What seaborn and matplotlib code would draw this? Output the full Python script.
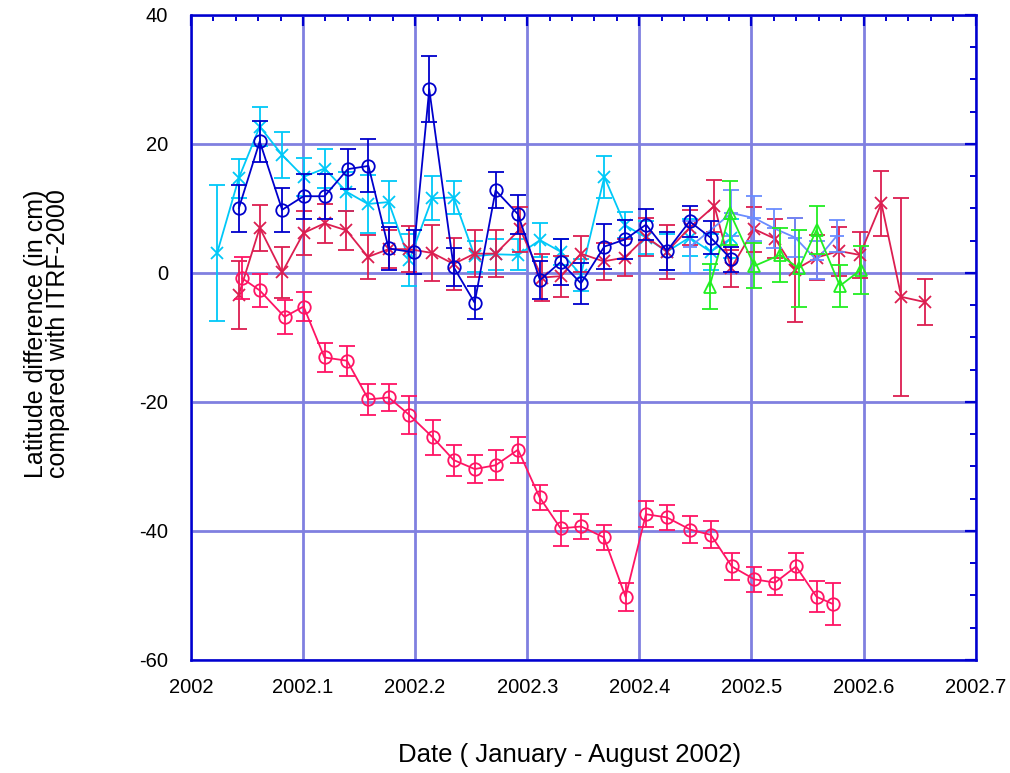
import numpy as np
import pandas as pd
import matplotlib
matplotlib.use("Agg")
import matplotlib.pyplot as plt
from matplotlib.ticker import MultipleLocator, FixedLocator, FixedFormatter
import seaborn as sns

# ---------------- data ----------------
# cyan (x markers)
cyan_x = [2002.0234, 2002.0427, 2002.0614, 2002.0814, 2002.1005, 2002.1192, 2002.1388,
          2002.1579, 2002.1764, 2002.1948, 2002.2153, 2002.2344, 2002.2531, 2002.2718,
          2002.2918, 2002.3114, 2002.3298, 2002.3479, 2002.3688, 2002.3873, 2002.4060,
          2002.4246, 2002.4448, 2002.4635, 2002.4822]
cyan_y = [3.1, 14.7, 22.7, 18.3, 14.9, 16.2, 12.6, 10.7, 11.0, 2.0, 11.6, 11.7, 2.6, 2.9,
          2.8, 5.1, 3.3, -0.3, 14.9, 7.4, 5.5, 3.3, 5.5, 3.3, 5.4]
cyan_e = [10.5, 3.0, 3.0, 3.5, 3.0, 3.0, 3.0, 4.5, 3.3, 4.0, 3.4, 2.6, 2.4, 2.4, 2.4, 2.6,
          2.0, 2.5, 3.3, 2.0, 2.5, 2.8, 2.8, 2.8, 3.0]

# dark blue (circles)
blue_x = [2002.0427, 2002.0614, 2002.0814, 2002.1005, 2002.1192, 2002.1399, 2002.1584,
          2002.1764, 2002.1987, 2002.2126, 2002.2344, 2002.2531, 2002.2718, 2002.2918,
          2002.3114, 2002.3298, 2002.3479, 2002.3688, 2002.3873, 2002.4060, 2002.4246,
          2002.4448, 2002.4635, 2002.4822]
blue_y = [10.0, 20.4, 9.8, 11.9, 11.9, 16.1, 16.6, 3.8, 3.2, 28.5, 0.9, -4.6, 12.8, 9.1,
          -1.1, 1.7, -1.6, 4.1, 5.2, 7.5, 3.4, 8.0, 5.5, 2.1]
blue_e = [3.7, 3.2, 3.4, 3.5, 3.5, 3.1, 4.1, 3.3, 3.4, 5.1, 2.9, 2.6, 2.8, 3.0, 2.9, 3.5,
          3.2, 3.5, 3.0, 2.4, 3.0, 2.4, 2.6, 2.0]

# red (x markers)
red_x = [2002.0427, 2002.0614, 2002.0814, 2002.1005, 2002.1192, 2002.1388, 2002.1579,
         2002.1764, 2002.1948, 2002.2153, 2002.2344, 2002.2531, 2002.2718, 2002.2936,
         2002.3131, 2002.3298, 2002.3479, 2002.3682, 2002.3870, 2002.4060, 2002.4246,
         2002.4448, 2002.4670, 2002.4817, 2002.5024, 2002.5211, 2002.5389, 2002.5581,
         2002.5783, 2002.5967, 2002.6159, 2002.6337, 2002.6545]
red_y = [-3.4, 7.0, 0.1, 6.2, 7.7, 6.6, 2.5, 3.7, 3.7, 3.1, 1.4, 3.0, 3.0, 6.8, -0.7, -0.5,
         3.0, 1.8, 2.4, 5.6, 3.3, 7.0, 10.4, 0.7, 6.8, 5.3, 0.5, 2.4, 3.4, 2.8, 10.8, -3.7,
         -4.5]
red_e = [5.3, 3.6, 3.9, 3.4, 3.0, 3.0, 3.4, 2.9, 3.6, 4.4, 4.0, 3.6, 3.6, 3.5, 3.6, 3.2,
         2.8, 2.9, 2.8, 3.0, 4.2, 2.7, 4.0, 2.9, 3.5, 3.0, 8.1, 3.5, 3.8, 3.6, 5.0, 15.4,
         3.6]

# pink (circles)
pink_x = [2002.0456, 2002.0614, 2002.0835, 2002.1005, 2002.1192, 2002.1393, 2002.1584,
          2002.1764, 2002.1948, 2002.2158, 2002.2344, 2002.2532, 2002.2719, 2002.2918,
          2002.3111, 2002.3298, 2002.3483, 2002.3684, 2002.3877, 2002.4059, 2002.4246,
          2002.4455, 2002.4638, 2002.4825, 2002.5027, 2002.5211, 2002.5398, 2002.5581,
          2002.5724]
pink_y = [-0.8, -2.7, -6.8, -5.2, -13.1, -13.6, -19.6, -19.3, -22.0, -25.5, -29.0, -30.4,
          -29.8, -27.4, -34.8, -39.6, -39.3, -41.0, -50.2, -37.4, -37.9, -39.8, -40.6,
          -45.5, -47.5, -48.0, -45.5, -50.2, -51.3]
pink_e = [3.3, 2.5, 2.6, 2.2, 2.2, 2.3, 2.4, 2.1, 2.9, 2.7, 2.4, 2.2, 2.3, 2.0, 2.0, 2.7,
          1.9, 2.0, 2.2, 2.0, 2.0, 2.1, 2.1, 2.1, 1.9, 2.0, 2.1, 2.4, 3.2]

# light blue (plus markers)
lblue_x = [2002.4448, 2002.4822, 2002.5027, 2002.5205, 2002.5389, 2002.5581, 2002.5759]
lblue_y = [4.0, 9.3, 8.5, 6.9, 5.5, 2.0, 5.7]
lblue_e = [4.0, 3.5, 3.5, 3.0, 3.0, 3.0, 2.5]

# green (triangles)
green_x = [2002.4626, 2002.4809, 2002.5027, 2002.5255, 2002.5424, 2002.5581, 2002.5789,
           2002.5976]
green_y = [-2.1, 9.3, 1.1, 2.8, 0.7, 6.7, -2.0, 0.5]
green_e = [3.5, 5.0, 3.5, 4.2, 5.9, 3.7, 3.3, 3.7]

x_ticks = [2002.0, 2002.1, 2002.2, 2002.3, 2002.4, 2002.5, 2002.6, 2002.7]
x_tick_labels = ["2002", "2002.1", "2002.2", "2002.3", "2002.4", "2002.5", "2002.6", "2002.7"]
y_ticks = [-60, -40, -20, 0, 20, 40]
y_tick_labels = ["-60", "-40", "-20", "0", "20", "40"]

# ---------------- plot ----------------
sns.set_style("white")
plt.rcParams["font.family"] = ["Liberation Sans", "DejaVu Sans"]
plt.rcParams["text.color"] = "black"

fig = plt.figure(figsize=(10.10, 7.73), dpi=100)
ax = fig.add_axes([0.189, 0.1462, 0.777, 0.8344])

grid_col = "#8080e0"
axis_col = "#0000d0"

series = [
    (cyan_x, cyan_y, cyan_e, "#00c8f8", "x", "none", 9),
    (red_x, red_y, red_e, "#dc1e50", "x", "none", 9),
    (lblue_x, lblue_y, lblue_e, "#6a8cff", "+", "none", 10),
    (green_x, green_y, green_e, "#22ee22", "^", "none", 9),
    (blue_x, blue_y, blue_e, "#0000cc", "o", "none", 9),
    (pink_x, pink_y, pink_e, "#ff1464", "o", "none", 9),
]

for i, (xs, ys, es, col, mk, mfc, ms) in enumerate(series):
    df = pd.DataFrame({"x": xs, "y": ys})
    ax.errorbar(xs, ys, yerr=es, fmt="none", ecolor=col, elinewidth=1.3,
                capsize=5.5, capthick=1.3, zorder=3 + i)
    sns.lineplot(data=df, x="x", y="y", ax=ax, color=col, lw=1.3, marker=mk,
                 markersize=ms, markerfacecolor=mfc, markeredgecolor=col,
                 markeredgewidth=1.3, sort=False, zorder=3 + i)

ax.set_xlim(2002.0, 2002.7)
ax.set_ylim(-60, 40)
ax.xaxis.set_major_locator(FixedLocator(x_ticks))
ax.xaxis.set_major_formatter(FixedFormatter(x_tick_labels))
ax.yaxis.set_major_locator(FixedLocator(y_ticks))
ax.yaxis.set_major_formatter(FixedFormatter(y_tick_labels))
ax.xaxis.set_minor_locator(MultipleLocator(0.02))
ax.yaxis.set_minor_locator(MultipleLocator(5))

ax.grid(True, which="major", color=grid_col, lw=2.0, zorder=1)
ax.set_axisbelow(True)
for s in ax.spines.values():
    s.set_color(axis_col)
    s.set_linewidth(1.8)
    s.set_visible(True)

ax.tick_params(which="both", direction="in", top=True, right=True, color=axis_col,
               labelsize=14.5, labelcolor="black")
ax.tick_params(which="major", length=8, width=1.6)
ax.tick_params(which="minor", length=4, width=1.4)
ax.tick_params(axis="x", which="major", pad=13)
ax.tick_params(axis="y", which="major", pad=16.5)

ax.set_xlabel("")
ax.set_ylabel("")
fig.text(570 / 1010, 1 - 755 / 773, "Date ( January - August 2002)", ha="center", va="center",
         fontsize=18.5, color="black")
fig.text(47 / 1010, 1 - 334 / 773, "Latitude difference (in cm)\ncompared with ITRF-2000",
         ha="center", va="center", rotation=90, fontsize=18, linespacing=0.85, color="black")

fig.savefig("out.png", dpi=100)
